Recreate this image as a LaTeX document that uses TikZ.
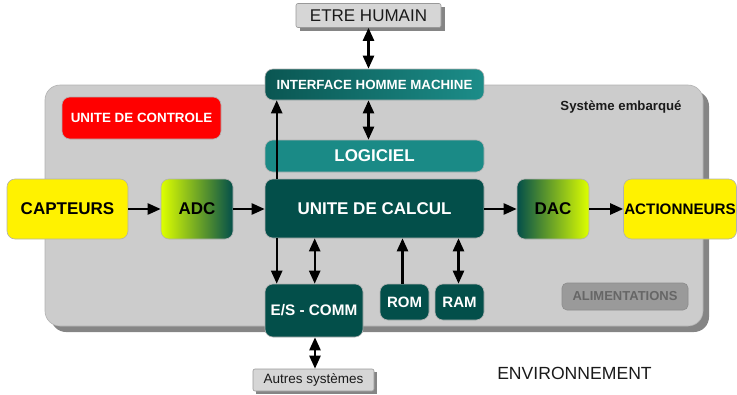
\documentclass[tikz,border=0pt]{standalone}
\usepackage{fontspec}
\setmainfont{Liberation Sans}
\usetikzlibrary{arrows.meta}
\definecolor{bgbox}{HTML}{CCCCCC}
\definecolor{shad}{HTML}{858585}
\definecolor{dteal}{HTML}{034F4A}
\definecolor{mteal}{HTML}{1A8A86}
\definecolor{lteal}{HTML}{1C8D89}
\definecolor{iteal}{HTML}{0A5652}
\definecolor{ygreen}{HTML}{DDFF00}
\definecolor{lgray}{HTML}{D6D6D6}
\definecolor{agray}{HTML}{9A9A9A}
\definecolor{atext}{HTML}{666666}
\definecolor{txt}{HTML}{1A1A1A}
\tikzset{
  box/.style={rounded corners=8pt, draw=black!30, line width=0.6pt, align=center, inner sep=0pt},
  tealbox/.style={box, fill=dteal, text=white, font=\bfseries\fontsize{#1}{#1}\selectfont},
  yelbox/.style={box, fill=yellow, text=black, font=\bfseries\fontsize{#1}{#1}\selectfont},
  graybox/.style={box, rounded corners=2pt, fill=lgray, draw=black!40, text=txt, font=\fontsize{#1}{#1}\selectfont},
  arr/.style={line width=2.4pt, -{Triangle[length=13pt,width=11pt]}},
  darr/.style={line width=2.4pt, {Triangle[length=13pt,width=11pt]}-{Triangle[length=13pt,width=11pt]}},
}
\begin{document}
\begin{tikzpicture}[x=1pt,y=-1pt]
\useasboundingbox (0,0) rectangle (737,394);
% embedded system frame
\fill[shad, rounded corners=15pt] (51,91) rectangle (709,332);
\draw[fill=bgbox, draw=black!30, line width=0.6pt, rounded corners=15pt] (45,85) rectangle (703,326);
\node[font=\bfseries\fontsize{13.2}{13.2}\selectfont, text=txt] (sys) at (621,107) {Système embarqué};

% shadows of gray boxes
\fill[shad] (299.5,7) rectangle (444.5,31);
\fill[shad] (256,372) rectangle (377,394);

\node[graybox=17, minimum width=145pt, minimum height=24pt] (human) at (368.5,15.5) {ETRE HUMAIN};
\node[box, left color=iteal, right color=lteal, text=white, font=\bfseries\fontsize{13.3}{13.3}\selectfont, minimum width=219pt, minimum height=31pt] (ihm) at (374.5,84.5) {INTERFACE HOMME MACHINE};
\node[box, fill=red, text=white, font=\bfseries\fontsize{13.4}{13.4}\selectfont, minimum width=159pt, minimum height=42pt] (ctrl) at (141.5,118) {UNITE DE CONTROLE};
\node[box, fill=mteal, text=white, font=\bfseries\fontsize{17}{17}\selectfont, minimum width=219pt, minimum height=32pt] (log) at (374.5,156) {LOGICIEL};
\node[tealbox=17, minimum width=219pt, minimum height=59pt] (calc) at (374.5,208.5) {UNITE DE CALCUL};
\node[yelbox=17, minimum width=121pt, minimum height=60pt] (capt) at (67.5,209) {CAPTEURS};
\node[box, left color=ygreen, right color=dteal, text=black, font=\bfseries\fontsize{17}{17}\selectfont, minimum width=72pt, minimum height=60pt] (adc) at (197,209) {ADC};
\node[box, left color=dteal, right color=ygreen, text=black, font=\bfseries\fontsize{17}{17}\selectfont, minimum width=72pt, minimum height=60pt] (dac) at (553,209) {DAC};
\node[yelbox=15.2, minimum width=113pt, minimum height=60pt] (act) at (680,209) {ACTIONNEURS};
\node[tealbox=15.3, minimum width=98pt, minimum height=53pt] (es) at (314,310.5) {E/S - COMM};
\node[tealbox=15, minimum width=49pt, minimum height=36pt] (rom) at (404.5,302) {ROM};
\node[tealbox=15, minimum width=49pt, minimum height=36pt] (ram) at (459.5,302) {RAM};
\node[box, rounded corners=5pt, fill=agray, draw=black!45, text=atext, font=\bfseries\fontsize{13}{13}\selectfont, minimum width=126pt, minimum height=27pt] (alim) at (625,296.5) {ALIMENTATIONS};
\node[graybox=13.5, minimum width=121pt, minimum height=22pt] (autres) at (313.5,380) {Autres systèmes};
\node[font=\fontsize{17.6}{17.6}\selectfont, text=txt] (env) at (574.5,373) {ENVIRONNEMENT};

% connectors
\draw[darr] (human.south) -- (human.south |- ihm.north);
\draw[darr] (human.south |- ihm.south) -- (human.south |- log.north);
\draw[arr] ([xshift=12pt]calc.north west) -- ([xshift=12pt]ihm.south west);
\draw[arr] (capt.east) -- (adc.west);
\draw[arr] (adc.east) -- (adc.east -| calc.west);
\draw[arr] (calc.east |- dac.west) -- (dac.west);
\draw[arr] (dac.east) -- (act.west);
\draw[arr] ([xshift=12pt]calc.south west) -- ([xshift=12pt]es.north west);
\draw[darr] ([xshift=50pt]calc.south west) -- ([xshift=50pt]calc.south west |- es.north);
\draw[arr] ([xshift=-2pt]rom.north) -- ([xshift=-2pt]rom.north |- calc.south);
\draw[darr] ([xshift=-1pt]ram.north) -- ([xshift=-1pt]ram.north |- calc.south);
\draw[darr] ([xshift=1pt]es.south) -- ([xshift=1pt]es.south |- autres.north);
\end{tikzpicture}
\end{document}
